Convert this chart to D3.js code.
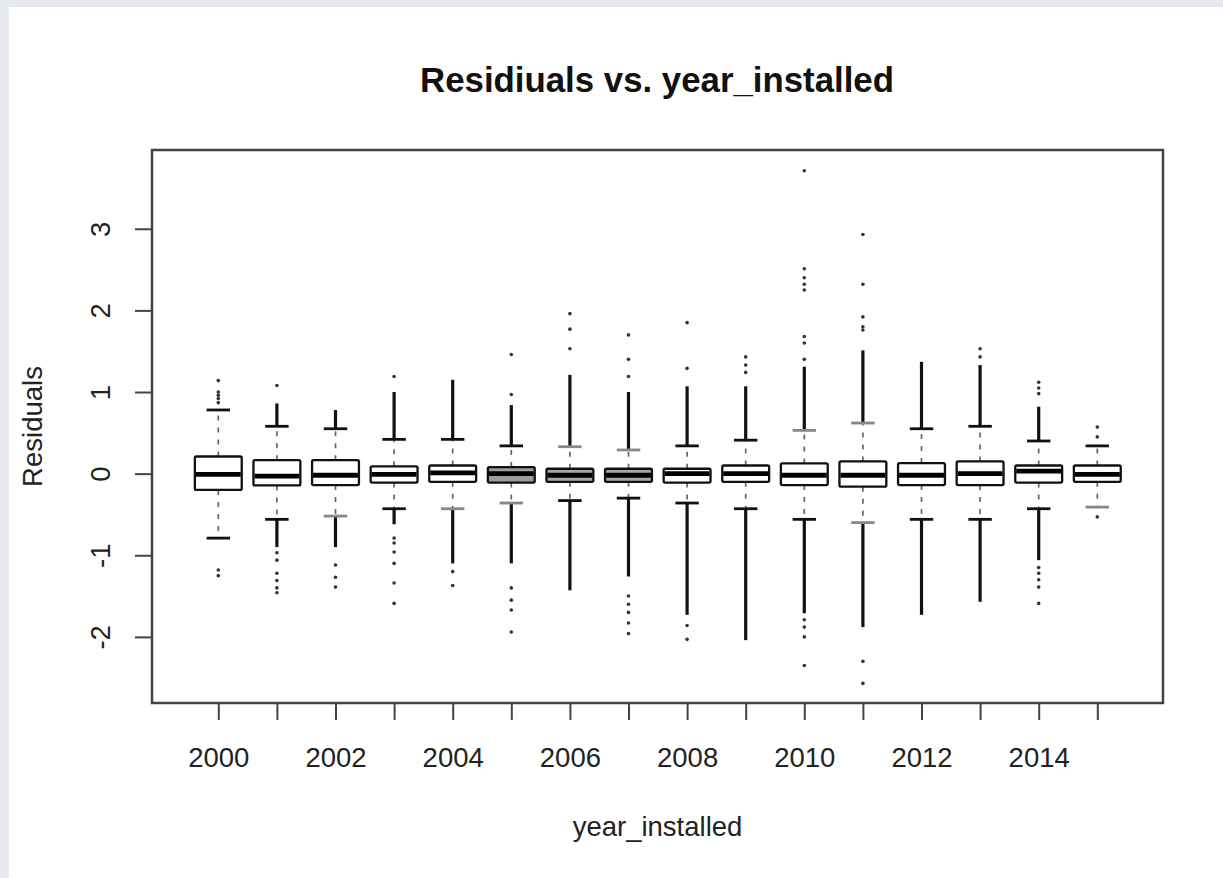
<!DOCTYPE html>
<html>
<head>
<meta charset="utf-8">
<style>
  body { margin: 0; background: #fff; }
  svg { display: block; }
  text { font-family: "Liberation Sans", Arial, Helvetica, sans-serif; fill: #222; }
</style>
</head>
<body>
<div id="chart"></div>
<script src="https://d3js.org/d3.v7.min.js"></script>
<script>
  // box statistics per year
  const years = [2000, 2001, 2002, 2003, 2004, 2005, 2006, 2007, 2008, 2009, 2010, 2011, 2012, 2013, 2014, 2015];
  const q3 = [0.21, 0.165, 0.165, 0.09, 0.10, 0.08, 0.06, 0.06, 0.06, 0.10, 0.125, 0.15, 0.13, 0.15, 0.10, 0.10];
  const medians = [-0.01, -0.03, -0.02, -0.01, 0.01, 0.0, -0.02, -0.02, 0.0, 0.0, -0.02, -0.02, -0.02, 0.0, 0.03, -0.01];
  const q1 = [-0.20, -0.145, -0.14, -0.11, -0.10, -0.11, -0.10, -0.10, -0.11, -0.10, -0.14, -0.16, -0.14, -0.14, -0.11, -0.10];
  const whiskerHigh = [0.78, 0.58, 0.55, 0.42, 0.42, 0.34, 0.33, 0.29, 0.34, 0.41, 0.53, 0.62, 0.55, 0.58, 0.40, 0.34];
  const whiskerLow = [-0.79, -0.56, -0.52, -0.43, -0.43, -0.36, -0.33, -0.30, -0.36, -0.43, -0.56, -0.60, -0.56, -0.56, -0.43, -0.41];

  // far end of the solid run of outliers just past each whisker (null = no run)
  const denseHigh = [null, 0.86, 0.78, 1.0, 1.15, 0.84, 1.21, 1.0, 1.07, 1.07, 1.31, 1.51, 1.37, 1.33, 0.82, null];
  const denseLow = [null, -0.9, -0.9, -0.62, -1.10, -1.10, -1.43, -1.26, -1.73, -2.04, -1.71, -1.88, -1.73, -1.57, -1.06, null];

  // separate outliers beyond the solid runs
  const outliersHigh = [
    [0.87, 0.92, 0.96, 1.0, 1.14],
    [1.08],
    [],
    [1.19],
    [],
    [0.97, 1.46],
    [1.53, 1.77, 1.96],
    [1.19, 1.40, 1.70],
    [1.29, 1.85],
    [1.24, 1.33, 1.43],
    [1.40, 1.60, 1.68, 2.25, 2.32, 2.40, 2.51, 3.71],
    [1.76, 1.80, 1.92, 2.32, 2.93],
    [],
    [1.43, 1.53],
    [0.98, 1.05, 1.12],
    [0.45, 0.57]
  ];
  const outliersLow = [
    [-1.18, -1.25],
    [-0.97, -1.06, -1.22, -1.31, -1.40, -1.46],
    [-1.12, -1.27, -1.39],
    [-0.79, -0.85, -0.96, -1.10, -1.34, -1.59],
    [-1.20, -1.37],
    [-1.40, -1.55, -1.67, -1.94],
    [],
    [-1.50, -1.60, -1.70, -1.83, -1.96],
    [-1.86, -2.03],
    [],
    [-1.79, -1.88, -2.0, -2.35],
    [-2.30, -2.57],
    [],
    [],
    [-1.15, -1.22, -1.30, -1.39, -1.59],
    [-0.53]
  ];

  const yTicks = [-2, -1, 0, 1, 2, 3];
  const xTickLabels = [2000, 2002, 2004, 2006, 2008, 2010, 2012, 2014];

  const title = "Residiuals vs. year_installed";
  const xTitle = "year_installed";
  const yTitle = "Residuals";

  // some boxes look shaded in the picture
  const boxFill = { 2005: "#9c9c9c", 2006: "#a8a8a8", 2007: "#a8a8a8" };
  const lightCaps = { high: [2006, 2007, 2010, 2011], low: [2002, 2004, 2005, 2011, 2015] };

  const W = 1223, H = 878;
  const plot = { left: 152, right: 1163, top: 150, bottom: 703 };

  const svg = d3.select("#chart").append("svg")
    .attr("width", W)
    .attr("height", H);

  svg.append("rect").attr("width", W).attr("height", H).attr("fill", "#e5e8ec");
  svg.append("rect").attr("x", 9).attr("y", 7).attr("width", W - 9).attr("height", H - 7).attr("fill", "#fff");

  const x = d3.scalePoint().domain(years).range([218.3, 1097.3]);
  const y = d3.scaleLinear().domain([-2.81, 3.965]).range([plot.bottom, plot.top]);
  const step = x.step();
  const boxW = step * 0.8;
  const capW = boxW * 0.5;

  const rows = years.map((yr, i) => ({
    year: yr, q1: q1[i], q3: q3[i], med: medians[i],
    lo: whiskerLow[i], hi: whiskerHigh[i],
    dHi: denseHigh[i], dLo: denseLow[i],
    oHi: outliersHigh[i], oLo: outliersLow[i]
  }));

  const g = svg.append("g");

  const box = g.selectAll("g.box")
    .data(rows)
    .enter()
    .append("g")
    .attr("class", "box")
    .attr("transform", d => `translate(${x(d.year)},0)`);

  // dashed whiskers
  box.append("line")
    .attr("y1", d => y(d.q3)).attr("y2", d => y(d.hi))
    .attr("stroke", "#666").attr("stroke-width", 1.7).attr("stroke-dasharray", "5,7");
  box.append("line")
    .attr("y1", d => y(d.q1)).attr("y2", d => y(d.lo))
    .attr("stroke", "#666").attr("stroke-width", 1.7).attr("stroke-dasharray", "5,7");

  // solid runs of outliers
  box.filter(d => d.dHi !== null).append("line")
    .attr("y1", d => y(d.hi)).attr("y2", d => y(d.dHi))
    .attr("stroke", "#111").attr("stroke-width", 3.2);
  box.filter(d => d.dLo !== null).append("line")
    .attr("y1", d => y(d.lo)).attr("y2", d => y(d.dLo))
    .attr("stroke", "#111").attr("stroke-width", 3.2);

  // single outliers
  box.selectAll("circle.hi")
    .data(d => d.oHi)
    .enter()
    .append("circle")
    .attr("class", "hi")
    .attr("cy", v => y(v)).attr("r", 1.8).attr("fill", "#333");
  box.selectAll("circle.lo")
    .data(d => d.oLo)
    .enter()
    .append("circle")
    .attr("class", "lo")
    .attr("cy", v => y(v)).attr("r", 1.8).attr("fill", "#333");

  // caps
  box.append("line")
    .attr("x1", -capW / 2).attr("x2", capW / 2)
    .attr("y1", d => y(d.hi)).attr("y2", d => y(d.hi))
    .attr("stroke", d => lightCaps.high.includes(d.year) ? "#888" : "#111")
    .attr("stroke-width", 2.8);
  box.append("line")
    .attr("x1", -capW / 2).attr("x2", capW / 2)
    .attr("y1", d => y(d.lo)).attr("y2", d => y(d.lo))
    .attr("stroke", d => lightCaps.low.includes(d.year) ? "#888" : "#111")
    .attr("stroke-width", 2.8);

  // boxes
  box.append("rect")
    .attr("x", -boxW / 2)
    .attr("width", boxW)
    .attr("y", d => y(d.q3))
    .attr("height", d => y(d.q1) - y(d.q3))
    .attr("rx", 1.5)
    .attr("fill", d => boxFill[d.year] || "#fff")
    .attr("stroke", "#111")
    .attr("stroke-width", 2.3);

  box.append("line")
    .attr("x1", -boxW / 2 + 1).attr("x2", boxW / 2 - 1)
    .attr("y1", d => y(d.med)).attr("y2", d => y(d.med))
    .attr("stroke", "#000")
    .attr("stroke-width", 4.8);

  // frame
  svg.append("rect")
    .attr("x", plot.left).attr("y", plot.top)
    .attr("width", plot.right - plot.left)
    .attr("height", plot.bottom - plot.top)
    .attr("fill", "none")
    .attr("stroke", "#444")
    .attr("stroke-width", 2.5);

  // x axis
  const xAxis = d3.axisBottom(x)
    .tickSize(17)
    .tickPadding(27)
    .tickFormat(d => xTickLabels.includes(d) ? d : "");
  const gx = svg.append("g")
    .attr("transform", `translate(0,${plot.bottom})`)
    .call(xAxis);
  gx.select(".domain").remove();
  gx.selectAll(".tick line").attr("stroke", "#444").attr("stroke-width", 2);
  gx.selectAll(".tick text")
    .attr("font-size", 27.5)
    .attr("font-family", "Liberation Sans, Arial, sans-serif")
    .attr("fill", "#222");

  // y axis
  const yAxis = d3.axisLeft(y)
    .tickValues(yTicks)
    .tickSize(17)
    .tickFormat(d3.format("d"));
  const gy = svg.append("g")
    .attr("transform", `translate(${plot.left},0)`)
    .call(yAxis);
  gy.select(".domain").remove();
  gy.selectAll(".tick line").attr("stroke", "#444").attr("stroke-width", 2);
  gy.selectAll(".tick text")
    .attr("x", null).attr("dy", null).attr("y", null)
    .attr("transform", "translate(-42,0) rotate(-90)")
    .attr("text-anchor", "middle")
    .attr("font-size", 27.5)
    .attr("font-family", "Liberation Sans, Arial, sans-serif")
    .attr("fill", "#222")
    .text(d => d < 0 ? "-" + Math.abs(d) : d);

  // titles
  svg.append("text")
    .attr("x", 657)
    .attr("y", 92)
    .attr("text-anchor", "middle")
    .attr("font-size", 34.8)
    .attr("font-weight", "bold")
    .style("fill", "#111")
    .text(title);

  svg.append("text")
    .attr("x", 657.5)
    .attr("y", 836)
    .attr("text-anchor", "middle")
    .attr("font-size", 27.5)
    .text(xTitle);

  svg.append("text")
    .attr("transform", `translate(42,${(plot.top + plot.bottom) / 2}) rotate(-90)`)
    .attr("text-anchor", "middle")
    .attr("font-size", 27.5)
    .text(yTitle);
</script>
</body>
</html>
